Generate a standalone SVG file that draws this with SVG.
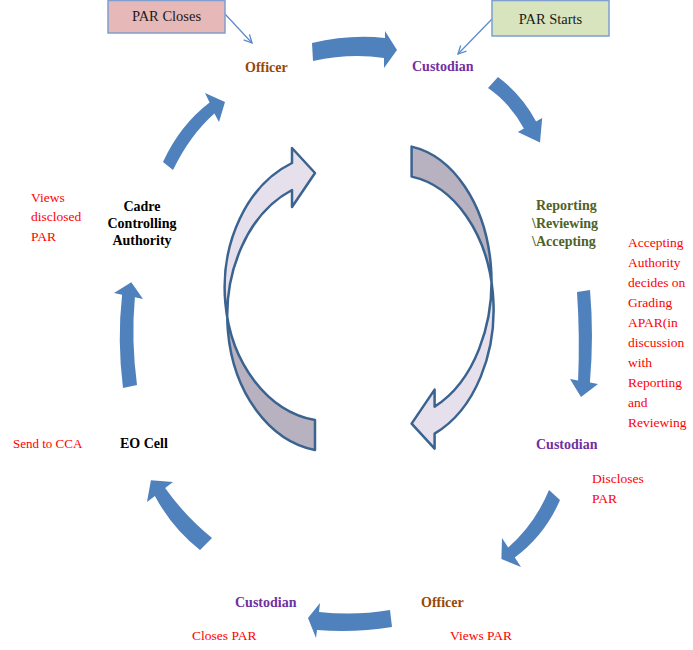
<svg xmlns="http://www.w3.org/2000/svg" width="693" height="650" viewBox="0 0 693 650">
<style>
text{font-family:"Liberation Serif","DejaVu Serif",serif;font-size:14px}
.b{font-weight:bold}
.off{fill:#984806}
.cus{fill:#7030a0}
.red{fill:#ff0000;font-size:13.5px}
.blk{fill:#000}
.rep{fill:#4f6228}
.bx{font-size:14.5px;fill:#1a1a1a}
.big{fill:#4f81bd}
.thin{fill:none;stroke:#5a8ac6;stroke-width:1.2}
.rib{stroke:#3b6390;stroke-width:2.5;stroke-linejoin:round}
</style>
<defs>
<marker id="open" viewBox="0 0 10 10" refX="9" refY="5" markerWidth="10" markerHeight="10" orient="auto" markerUnits="userSpaceOnUse">
<path d="M1,1 L9,5 L1,9" fill="none" stroke="#5a8ac6" stroke-width="1.3"/>
</marker>
<clipPath id="lt"><rect x="200" y="100" width="150" height="214"/></clipPath>
<clipPath id="lb"><rect x="200" y="314" width="150" height="160"/></clipPath>
<clipPath id="rt"><rect x="380" y="120" width="140" height="163"/></clipPath>
<clipPath id="rb"><rect x="380" y="283" width="140" height="190"/></clipPath>
<path id="leftRib" d="M292,163 A105,133.6 0 0 0 315,420 L315,450 A103,135.6 0 0 1 292,190 L292,207 L315,173 L292,148 Z"/>
<path id="rightRib" d="M434.6,433.6 A97,134.7 0 0 0 411.6,176.6 L411.6,146.6 A95,136.6 0 0 1 434.6,406.6 L434.6,389.6 L411.6,423.6 L434.6,448.6 Z"/>
</defs>
<rect width="693" height="650" fill="#fff"/>

<g id="connectors">
<path class="big" d="M312,43 Q350,34 385,38 L385,31 L397,50 L384,68 L384,58 Q350,53 313,61 Z"/>
<path class="big" d="M498,77 Q522,95 536.1,121.5 L542.2,118 L540,142.4 L517.8,132 L523.9,128.5 Q510,103 488,88 Z"/>
<path class="big" d="M577,292 L590,290 Q594,336 589.9,382.5 L598,384 L581,397 L570,379 L578.1,380.4 Q580,336 577,292 Z"/>
<path class="big" d="M549,490 L560,500 Q545,535 514.8,557.5 L521,567 L501.4,559 L502,538 L508.2,547.5 Q535,524 549,490 Z"/>
<path class="big" d="M390,610 L392,627 Q355,633 317,630 L316,638 L308,618 L320,603 L319,612 Q355,616 390,610 Z"/>
<path class="big" d="M200,550 Q172,528 154.9,496 L147,502 L150.9,480.2 L173,482 L165.1,488 Q185,516 212,538 Z"/>
<path class="big" d="M123,388 Q117,340 122.1,294.7 L114,293 L131.3,282.3 L143,299 L134.9,297.3 Q131,340 137,385 Z"/>
<path class="big" d="M163,162 Q180,125 209.6,102.5 L205,93 L225,102 L219,122 L214.4,113.5 Q190,135 173,170 Z"/>
<line class="thin" x1="225" y1="14" x2="252" y2="43" marker-end="url(#open)"/>
<line class="thin" x1="492" y1="19" x2="458" y2="54" marker-end="url(#open)"/>
</g>

<g id="center-cycle">
<use href="#leftRib" fill="#e5e0ec" clip-path="url(#lt)"/>
<use href="#leftRib" fill="#b8b1bf" clip-path="url(#lb)"/>
<use href="#leftRib" fill="none" class="rib"/>
<use href="#rightRib" fill="#b8b1bf" clip-path="url(#rt)"/>
<use href="#rightRib" fill="#e5e0ec" clip-path="url(#rb)"/>
<use href="#rightRib" fill="none" class="rib"/>
</g>

<g id="par-closes">
<rect x="108" y="0.5" width="117" height="32.5" fill="#e6b9b8" stroke="#7e9fcf" stroke-width="1.5"/>
<text class="bx" x="166.5" y="21" text-anchor="middle">PAR Closes</text>
</g>
<g id="par-starts">
<rect x="492" y="0.5" width="117" height="35.5" fill="#d7e4bd" stroke="#7e9fcf" stroke-width="1.5"/>
<text class="bx" x="550.5" y="24" text-anchor="middle">PAR Starts</text>
</g>
<g id="officer-top"><text class="b off" x="245" y="72">Officer</text></g>
<g id="custodian-top"><text class="b cus" x="412" y="71">Custodian</text></g>
<g id="reporting">
<text class="b rep" x="536" y="210">Reporting</text>
<text class="b rep" x="532" y="228">\Reviewing</text>
<text class="b rep" x="532" y="246">\Accepting</text>
</g>
<g id="accepting-note">
<text class="red" x="628" y="247">Accepting</text>
<text class="red" x="628" y="267">Authority</text>
<text class="red" x="628" y="287">decides on</text>
<text class="red" x="628" y="307">Grading</text>
<text class="red" x="628" y="327">APAR(in</text>
<text class="red" x="628" y="347">discussion</text>
<text class="red" x="628" y="367">with</text>
<text class="red" x="628" y="387">Reporting</text>
<text class="red" x="628" y="407">and</text>
<text class="red" x="628" y="427">Reviewing</text>
</g>
<g id="custodian-right">
<text class="b cus" x="536" y="449">Custodian</text>
<text class="red" x="592" y="483">Discloses</text>
<text class="red" x="592" y="503">PAR</text>
</g>
<g id="officer-bottom">
<text class="b off" x="421" y="607">Officer</text>
<text class="red" x="450" y="640">Views PAR</text>
</g>
<g id="custodian-bottom">
<text class="b cus" x="235" y="607">Custodian</text>
<text class="red" x="192" y="640">Closes PAR</text>
</g>
<g id="eo-cell">
<text class="b blk" x="120" y="448">EO Cell</text>
<text class="red" x="13" y="448" style="font-size:13px">Send to CCA</text>
</g>
<g id="cca">
<text class="b blk" x="142" y="211" text-anchor="middle">Cadre</text>
<text class="b blk" x="142" y="228" text-anchor="middle">Controlling</text>
<text class="b blk" x="142" y="245" text-anchor="middle">Authority</text>
<text class="red" x="31" y="202">Views</text>
<text class="red" x="31" y="221">disclosed</text>
<text class="red" x="31" y="241">PAR</text>
</g>
</svg>
